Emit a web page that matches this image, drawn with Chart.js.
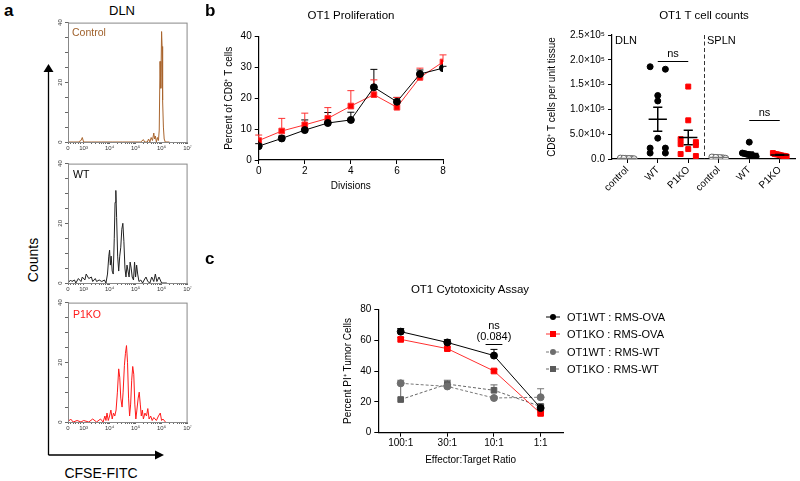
<!DOCTYPE html>
<html lang="en">
<head>
<meta charset="UTF-8">
<title>OT1 CFSE / proliferation / counts / cytotoxicity</title>
<script src="https://cdn.jsdelivr.net/npm/chart.js"></script>
<style>
  body { margin: 0; background: #fff; font-family: 'Liberation Sans', Arial, sans-serif; }
  #fig { position: relative; width: 800px; height: 481px; overflow: hidden; background: #fff; }
  #fig canvas, #fig > svg, .txt { position: absolute; }
  .txt { white-space: nowrap; color: #000; line-height: 1; }
  .leg { position: absolute; display: flex; align-items: center; font-size: 11px; height: 14px; white-space: nowrap; }
  .leg svg { position: static; margin-right: 7px; flex: none; }
</style>
</head>
<body>
<div id="fig"></div>

<script>
// ---------- data ----------
// panel a: CFSE histograms, [log10(CFSE-FITC), count]
const histTickVals = [2.4, 3, 4, 5, 6, 7];
const histTickText = ['0', '10³', '10⁴', '10⁵', '10⁶', '10⁷'];
const ctrlHist = [[2.4,0],[2.6,0],[2.8,0],[2.9,0.5],[2.95,1.5],[3.0,0],[3.3,0],[3.7,0],[4.1,0],[4.5,0],[4.9,0],[5.2,0],
  [5.3,0.8],[5.35,0],[5.45,0],[5.5,1],[5.55,0],[5.6,1.5],[5.65,0.5],[5.7,3],[5.73,1],[5.76,2],[5.8,0],[5.84,1.5],
  [5.88,0.5],[5.91,4],[5.94,27],[5.97,18],[6.0,37],[6.02,32],[6.04,14],[6.07,5],[6.1,1],[6.14,0],[6.3,0]];
const wtHist = [[2.4,0],[2.5,1],[2.55,0.5],[2.65,1],[2.7,0],[2.8,1.5],[2.9,0.5],[2.95,2],[3.05,1],[3.1,3],[3.2,1.5],
  [3.3,2],[3.35,0.5],[3.45,1.5],[3.5,0.5],[3.6,1],[3.7,0.5],[3.8,1],[3.86,0],[3.92,3],[3.97,9],[4.0,11],[4.03,6],
  [4.06,9],[4.1,4],[4.14,3],[4.18,15],[4.21,27],[4.24,31],[4.27,22],[4.31,9],[4.35,4],[4.39,9],[4.43,12],[4.47,18],
  [4.51,20],[4.55,14],[4.59,5],[4.63,2],[4.67,6],[4.71,4],[4.75,2],[4.79,7],[4.83,5],[4.87,2],[4.92,1],[4.96,7],
  [5.0,2],[5.04,6],[5.08,3],[5.13,0.5],[5.2,1],[5.27,0],[5.33,1],[5.4,2],[5.47,0.5],[5.55,0],[5.62,2],[5.7,0.5],
  [5.76,3],[5.82,0.5],[5.9,2],[6.0,0],[6.2,0]];
const koHist = [[2.4,0],[2.5,1],[2.6,0],[2.75,0.5],[2.9,0],[3.0,0.5],[3.2,0],[3.35,1],[3.5,0],[3.65,1],[3.75,0],
  [3.82,2],[3.86,0.5],[3.9,3],[3.95,0.5],[4.0,2],[4.05,4],[4.1,1],[4.15,3],[4.2,2],[4.25,4],[4.3,10],[4.35,17.8],
  [4.39,15],[4.43,8],[4.48,5],[4.52,10],[4.57,19],[4.61,23],[4.65,25.6],[4.69,20],[4.73,8],[4.77,2],[4.81,6],
  [4.85,14],[4.89,18.6],[4.93,16],[4.97,6],[5.01,1],[5.05,4],[5.1,8],[5.14,10],[5.18,6],[5.22,2],[5.26,4],[5.3,1],
  [5.36,3],[5.42,2],[5.47,4.5],[5.52,1],[5.58,2],[5.64,0.5],[5.7,1.5],[5.8,0.5],[5.88,2],[5.95,3],[6.0,0.5],
  [6.05,1],[6.15,0]];

// panel b left: proliferation
const divisions = [0, 1, 2, 3, 4, 5, 6, 7, 8];
const wtProlif = [4.5, 7.0, 9.7, 12.0, 13.0, 23.6, 18.9, 27.9, 29.8];
const wtProlifErr = [0.8, 0.8, 3.3, 3.4, 2.5, 5.8, 1.4, 1.3, 0.6];
const koProlif = [6.3, 9.4, 11.4, 13.5, 17.5, 21.2, 17.1, 26.8, 31.8];
const koProlifErr = [1.8, 4.1, 3.8, 3.5, 5.0, 4.8, 3.2, 3.0, 2.3];

// panel b right: T cell counts per group
const countGroups = ['control', 'WT', 'P1KO', 'control', 'WT', 'P1KO'];
const dlnControl = [1500, 800, 1200, 600, 1000, 1800, 400, 900, 1300];
const dlnWT = [181000, 186000, 128000, 117000, 42000, 22000, 22000, 12000, 12000];
const dlnKO = [146000, 78000, 40000, 34000, 30000, 28000, 20000, 10000, 6000];
const splnControl = [3000, 2500, 3500, 2000, 4000, 2800, 1500, 3200];
const splnWT = [34000, 12000, 8000, 10000, 6000, 9000, 5000, 7000, 11000];
const splnKO = [12000, 9000, 8000, 6000, 10000, 7000, 5000, 9500, 6500];

// panel c: cytotoxicity
const ratios = ['100:1', '30:1', '10:1', '1:1'];
const wtOva = [65.5, 58.5, 50, 16];
const wtOvaErr = [2, 1.8, 4, 2];
const koOva = [60.5, 54.5, 40, 12.5];
const koOvaErr = [1.2, 1, 1, 1];
const wtRmsWt = [32, 30, 22.5, 23];
const wtRmsWtErr = [2, 1.5, 1, 5.5];
const koRmsWt = [21.5, 31.5, 27.5, 17];
const koRmsWtErr = [11, 2.5, 3.5, 1.5];

// ---------- setup ----------
Chart.defaults.font.family = "'Liberation Sans', Arial, sans-serif";
Chart.defaults.font.size = 10;
Chart.defaults.color = '#000';
Chart.defaults.animation = false;
Chart.defaults.plugins.legend.display = false;
Chart.defaults.plugins.tooltip.enabled = false;
Chart.defaults.elements.line.tension = 0;

const fig = document.getElementById('fig');

function text(str, x, y, css, center = true) {
  const d = document.createElement('div');
  d.className = 'txt';
  d.textContent = str;
  d.style.left = x + 'px';
  d.style.top = y + 'px';
  if (center) d.style.transform = 'translate(-50%, -50%)';
  Object.assign(d.style, css || {});
  fig.appendChild(d);
  return d;
}

function canvasAt(x, y, w, h) {
  const c = document.createElement('canvas');
  c.width = w; c.height = h;
  c.style.left = x + 'px'; c.style.top = y + 'px';
  c.style.width = w + 'px'; c.style.height = h + 'px';
  fig.appendChild(c);
  return c;
}

// box round the histogram plots
const frame = {
  id: 'frame',
  afterDraw(chart, args, opts) {
    if (!opts.color) return;
    const { ctx, chartArea: a } = chart;
    ctx.save();
    ctx.strokeStyle = opts.color;
    ctx.lineWidth = 1;
    ctx.strokeRect(a.left + 0.5, a.top + 0.5, a.width - 1, a.height);
    ctx.restore();
  }
};

// error bars (upper only unless errBoth)
const errorBars = {
  id: 'errorBars',
  beforeDatasetsDraw(chart) {
    const { ctx, scales: { y } } = chart;
    chart.data.datasets.forEach((ds, i) => {
      if (!ds.err) return;
      const meta = chart.getDatasetMeta(i);
      ctx.save();
      ctx.strokeStyle = ds.errColor || ds.borderColor;
      ctx.lineWidth = 1;
      meta.data.forEach((pt, j) => {
        const v = ds.data[j].y, e = ds.err[j];
        const top = y.getPixelForValue(v + e);
        const bot = ds.errBoth ? y.getPixelForValue(v - e) : pt.y;
        ctx.beginPath();
        ctx.moveTo(pt.x, top); ctx.lineTo(pt.x, bot);
        ctx.moveTo(pt.x - 3.5, top); ctx.lineTo(pt.x + 3.5, top);
        if (ds.errBoth) { ctx.moveTo(pt.x - 3.5, bot); ctx.lineTo(pt.x + 3.5, bot); }
        ctx.stroke();
      });
      ctx.restore();
    });
  }
};

// mean +/- SEM for the dot plots
const meanSem = {
  id: 'meanSem',
  afterDatasetsDraw(chart) {
    const { ctx, scales: { x, y } } = chart;
    chart.data.datasets.forEach(ds => {
      if (!ds.values) return;
      const v = ds.values, n = v.length;
      const m = v.reduce((a, b) => a + b, 0) / n;
      const sd = Math.sqrt(v.reduce((a, b) => a + (b - m) ** 2, 0) / (n - 1));
      const se = sd / Math.sqrt(n);
      const cx = x.getPixelForValue(ds.center);
      const w = x.getPixelForValue(ds.center + 0.3) - cx;
      const ym = y.getPixelForValue(m), yt = y.getPixelForValue(m + se), yb = y.getPixelForValue(Math.max(m - se, 0));
      ctx.save();
      ctx.strokeStyle = ds.meanColor;
      ctx.lineWidth = 1.5;
      ctx.beginPath();
      ctx.moveTo(cx - w, ym); ctx.lineTo(cx + w, ym);
      ctx.moveTo(cx, yt); ctx.lineTo(cx, yb);
      ctx.moveTo(cx - w / 2, yt); ctx.lineTo(cx + w / 2, yt);
      ctx.moveTo(cx - w / 2, yb); ctx.lineTo(cx + w / 2, yb);
      ctx.stroke();
      ctx.restore();
    });
  }
};

// "ns" brackets
const notes = {
  id: 'notes',
  afterDatasetsDraw(chart, args, opts) {
    if (!opts.items) return;
    const { ctx, scales: { x, y } } = chart;
    ctx.save();
    ctx.strokeStyle = '#000'; ctx.fillStyle = '#000'; ctx.lineWidth = 1;
    ctx.font = "11px 'Liberation Sans', Arial, sans-serif";
    ctx.textAlign = 'center'; ctx.textBaseline = 'middle';
    opts.items.forEach(it => {
      const x0 = x.getPixelForValue(it.from), x1 = x.getPixelForValue(it.to);
      const py = Math.round(y.getPixelForValue(it.at)) + 0.5;
      ctx.beginPath(); ctx.moveTo(x0, py); ctx.lineTo(x1, py); ctx.stroke();
      it.text.slice().reverse().forEach((t, k) => ctx.fillText(t, (x0 + x1) / 2, py - 8 - k * 10.5));
    });
    ctx.restore();
  }
};

// dashed separator between DLN and SPLN
const divider = {
  id: 'divider',
  afterDatasetsDraw(chart, args, opts) {
    if (opts.at === undefined) return;
    const { ctx, chartArea: a, scales: { x } } = chart;
    const px = Math.round(x.getPixelForValue(opts.at)) + 0.5;
    ctx.save();
    ctx.strokeStyle = '#333'; ctx.lineWidth = 1; ctx.setLineDash([4, 2.5]);
    ctx.beginPath(); ctx.moveTo(px, a.top); ctx.lineTo(px, a.bottom); ctx.stroke();
    ctx.restore();
  }
};

// ---------- panel a ----------
const histMinor = [2.5, 2.6, 2.7, 2.8, 2.9];
for (let k = 3; k < 7; k++) for (let m = 2; m < 10; m++) histMinor.push(k + Math.log10(m));
const histTicks = histTickVals.concat(histMinor).sort((a, b) => a - b);

function histLabel(v) {
  const i = histTickVals.findIndex(t => Math.abs(t - v) < 1e-6);
  return i < 0 ? '' : histTickText[i];
}

function histChart(top, points, color) {
  const c = canvasAt(52, top, 141, 134);
  return new Chart(c, {
    type: 'line',
    data: { datasets: [{ data: points.map(p => ({ x: p[0], y: p[1] })), borderColor: color, borderWidth: 1, pointRadius: 0 }] },
    options: {
      responsive: false,
      layout: { padding: { top: 4, right: 4 } },
      scales: {
        x: {
          type: 'linear', min: 2.4, max: 7,
          afterBuildTicks: s => { s.ticks = histTicks.map(v => ({ value: v })); },
          afterFit: s => { s.height = 10; },
          grid: { drawOnChartArea: false, tickLength: 2, color: '#666' },
          border: { color: '#888' },
          ticks: { autoSkip: false, maxRotation: 0, padding: 1, font: { size: 6 }, color: '#333', callback: v => histLabel(v) }
        },
        y: {
          min: 0, max: 40,
          afterFit: s => { s.width = 16; },
          grid: { drawOnChartArea: false, tickLength: 3, color: '#666' },
          border: { color: '#888' },
          ticks: { stepSize: 5, minRotation: 90, maxRotation: 90, crossAlign: 'center', padding: 1, font: { size: 6 }, color: '#333',
                   callback: v => (v % 20 === 0 ? String(v) : '') }
        }
      },
      plugins: { frame: { color: '#888' } }
    },
    plugins: [frame]
  });
}

histChart(18, ctrlHist, '#a9652e');
histChart(159, wtHist, '#222');
histChart(298, koHist, '#ff1a1a');

text('a', 4, 2, { fontWeight: 'bold', fontSize: '17px' }, false);
text('DLN', 122, 10, { fontSize: '13px' });
text('Control', 72, 32, { fontSize: '10.5px', color: '#a0622d', transform: 'translateY(-50%)' }, false);
text('WT', 73, 174, { fontSize: '10.5px', transform: 'translateY(-50%)' }, false);
text('P1KO', 73, 314, { fontSize: '10.5px', color: '#ff1a1a', transform: 'translateY(-50%)' }, false);
text('Counts', 33, 260, { fontSize: '14px', transform: 'translate(-50%, -50%) rotate(-90deg)' }, false);
text('CFSE-FITC', 101, 473, { fontSize: '14px' });

const svgNS = 'http://www.w3.org/2000/svg';
const arrows = document.createElementNS(svgNS, 'svg');
arrows.setAttribute('width', 800); arrows.setAttribute('height', 481);
arrows.style.left = '0px'; arrows.style.top = '0px';
arrows.innerHTML =
  '<path d="M48.5 455 V70 M48.5 455 H157" stroke="#000" stroke-width="1.3" fill="none"/>' +
  '<polygon points="48.5,64 43.5,72 53.5,72" fill="#000"/>' +
  '<polygon points="164,455 155,450.5 155,459.5" fill="#000"/>';
fig.appendChild(arrows);

// ---------- panel b: proliferation ----------
new Chart(canvasAt(218, 26, 232, 168), {
  type: 'line',
  data: {
    datasets: [
      { label: 'WT', data: divisions.map((d, i) => ({ x: d, y: wtProlif[i] })), err: wtProlifErr,
        borderColor: '#000', backgroundColor: '#000', borderWidth: 1, pointStyle: 'circle', pointRadius: 3.5 },
      { label: 'P1KO', data: divisions.map((d, i) => ({ x: d, y: koProlif[i] })), err: koProlifErr,
        borderColor: '#ff3030', backgroundColor: '#ff0000', borderWidth: 1, pointStyle: 'rect', pointRadius: 4 }
    ]
  },
  options: {
    responsive: false,
    layout: { padding: { top: 10.7, right: 7 } },
    scales: {
      x: {
        type: 'linear', min: 0, max: 8,
        afterFit: s => { s.height = 34; },
        grid: { drawOnChartArea: false, tickLength: 4, color: '#000' },
        border: { color: '#000', width: 1.2 },
        ticks: { stepSize: 2, padding: 1 },
        title: { display: true, text: 'Divisions', padding: { top: 0, bottom: 2 } }
      },
      y: {
        min: 0, max: 40,
        afterFit: s => { s.width = 40.7; },
        grid: { drawOnChartArea: false, tickLength: 4, color: '#000' },
        border: { color: '#000', width: 1.2 },
        ticks: { stepSize: 10, padding: 3 },
        title: { display: true, text: 'Percent of CD8⁺ T cells', padding: { top: 5, bottom: 0 } }
      }
    }
  },
  plugins: [errorBars]
});

text('b', 205, 2, { fontWeight: 'bold', fontSize: '17px' }, false);
text('OT1 Proliferation', 351, 16, { fontSize: '11.5px' });

// ---------- panel b: T cell counts ----------
const sup = { 4: '⁴', 5: '⁵' };
function sci(v) {
  if (v === 0) return '0.0';
  const e = Math.floor(Math.log10(v) + 1e-9);
  return (v / 10 ** e).toFixed(1) + '×10' + sup[e];
}

// spread points of similar value side by side
function spread(values, center) {
  const order = values.map((v, i) => i).sort((a, b) => values[b] - values[a]);
  const xs = new Array(values.length);
  let row = [];
  const flush = () => {
    const n = row.length;
    const span = n === 1 ? 0 : (n === 2 ? 0.5 : 0.45);
    row.forEach((idx, k) => { xs[idx] = center + (n === 1 ? 0 : -span / 2 + span * k / (n - 1)); });
    row = [];
  };
  order.forEach(i => {
    if (row.length && values[row[0]] - values[i] >= 10000) flush();
    row.push(i);
  });
  flush();
  return values.map((v, i) => ({ x: xs[i], y: v }));
}

const countSets = [
  [dlnControl, 'circle', '#fff', '#666', '#777'],
  [dlnWT, 'circle', '#000', '#000', '#000'],
  [dlnKO, 'rect', '#ff0000', '#ff0000', '#000'],
  [splnControl, 'circle', '#fff', '#666', '#777'],
  [splnWT, 'circle', '#000', '#000', '#000'],
  [splnKO, 'rect', '#ff0000', '#ff0000', '#000']
];

new Chart(canvasAt(543, 20, 257, 175), {
  type: 'scatter',
  data: {
    datasets: countSets.map((s, g) => ({
      label: countGroups[g],
      data: spread(s[0], g + 0.5),
      values: s[0], center: g + 0.5, meanColor: s[4],
      pointStyle: s[1], backgroundColor: s[2], borderColor: s[3], borderWidth: 1,
      pointRadius: s[1] === 'rect' ? 3.5 : 3
    }))
  },
  options: {
    responsive: false,
    layout: { padding: { top: 15, right: 3 } },
    scales: {
      x: {
        type: 'linear', min: 0, max: 6,
        afterBuildTicks: s => { s.ticks = countGroups.map((g, i) => ({ value: i + 0.5 })); },
        afterFit: s => { s.height = 36; },
        grid: { drawOnChartArea: false, tickLength: 4, color: '#000' },
        border: { color: '#000', width: 1.2 },
        ticks: { autoSkip: false, minRotation: 45, maxRotation: 45, padding: 1,
                 callback: v => countGroups[Math.round(v - 0.5)] }
      },
      y: {
        min: 0, max: 250000,
        afterFit: s => { s.width = 69; },
        grid: { drawOnChartArea: false, tickLength: 4, color: '#000' },
        border: { color: '#000', width: 1.2 },
        ticks: { stepSize: 50000, padding: 3, callback: v => sci(v) },
        title: { display: true, text: 'CD8⁺ T cells per unit tissue', padding: { top: 3, bottom: 0 } }
      }
    },
    plugins: {
      divider: { at: 3 },
      notes: { items: [
        { from: 1.5, to: 2.5, at: 198000, text: ['ns'] },
        { from: 4.5, to: 5.5, at: 79000, text: ['ns'] }
      ] }
    }
  },
  plugins: [meanSem, notes, divider]
});

text('OT1 T cell counts', 704, 16, { fontSize: '11.5px' });
text('DLN', 615, 40, { fontSize: '11px', transform: 'translateY(-50%)' }, false);
text('SPLN', 707, 40, { fontSize: '11px', transform: 'translateY(-50%)' }, false);

// ---------- panel c: cytotoxicity ----------
const cytoSets = [
  { label: 'OT1WT : RMS-OVA', data: wtOva, err: wtOvaErr, color: '#000', fill: '#000', style: 'circle', dash: [] },
  { label: 'OT1KO : RMS-OVA', data: koOva, err: koOvaErr, color: '#ff3030', fill: '#ff0000', style: 'rect', dash: [] },
  { label: 'OT1WT : RMS-WT', data: wtRmsWt, err: wtRmsWtErr, color: '#777', fill: '#6e6e6e', style: 'circle', dash: [3, 2] },
  { label: 'OT1KO : RMS-WT', data: koRmsWt, err: koRmsWtErr, color: '#666', fill: '#5a5a5a', style: 'rect', dash: [3, 2] }
];

new Chart(canvasAt(336, 300, 233, 168), {
  type: 'line',
  data: {
    datasets: cytoSets.map(s => ({
      label: s.label,
      data: s.data.map((v, i) => ({ x: i, y: v })),
      err: s.err,
      borderColor: s.color, backgroundColor: s.fill, borderWidth: 1, borderDash: s.dash,
      pointStyle: s.style, pointRadius: s.style === 'rect' ? 4 : 3.5, pointBorderColor: s.fill
    }))
  },
  options: {
    responsive: false,
    layout: { padding: { top: 9.3, right: 6 } },
    scales: {
      x: {
        type: 'linear', min: -0.48, max: 3.48,
        afterBuildTicks: s => { s.ticks = ratios.map((r, i) => ({ value: i })); },
        afterFit: s => { s.height = 35.3; },
        grid: { drawOnChartArea: false, tickLength: 4, color: '#000' },
        border: { color: '#000', width: 1.2 },
        ticks: { autoSkip: false, maxRotation: 0, padding: 1, callback: v => ratios[Math.round(v)] },
        title: { display: true, text: 'Effector:Target Ratio', padding: { top: 0, bottom: 2 } }
      },
      y: {
        min: 0, max: 80,
        afterFit: s => { s.width = 42.3; },
        grid: { drawOnChartArea: false, tickLength: 4, color: '#000' },
        border: { color: '#000', width: 1.2 },
        ticks: { stepSize: 20, padding: 3 },
        title: { display: true, text: 'Percent PI⁺ Tumor Cells', padding: { top: 6, bottom: 0 } }
      }
    },
    plugins: {
      notes: { items: [{ from: 1.82, to: 2.18, at: 57.5, text: ['ns', '(0.084)'] }] }
    }
  },
  plugins: [errorBars, notes]
});

text('c', 205, 250, { fontWeight: 'bold', fontSize: '17px' }, false);
text('OT1 Cytotoxicity Assay', 470, 290, { fontSize: '11.5px' });

// legend
cytoSets.forEach((s, i) => {
  const row = document.createElement('div');
  row.className = 'leg';
  row.style.left = '546px';
  row.style.top = (317 + i * 17.4 - 7) + 'px';
  const mark = s.style === 'rect'
    ? '<rect x="4" y="2" width="6" height="6" fill="' + s.fill + '"/>'
    : '<circle cx="7" cy="5" r="3" fill="' + s.fill + '"/>';
  row.innerHTML = '<svg width="14" height="10"><line x1="0" y1="5" x2="14" y2="5" stroke="' + s.color +
    '" stroke-width="1" stroke-dasharray="' + (s.dash.length ? s.dash.join(' ') : 'none') + '"/>' + mark + '</svg>';
  row.appendChild(document.createTextNode(s.label));
  fig.appendChild(row);
});
</script>
</body>
</html>
